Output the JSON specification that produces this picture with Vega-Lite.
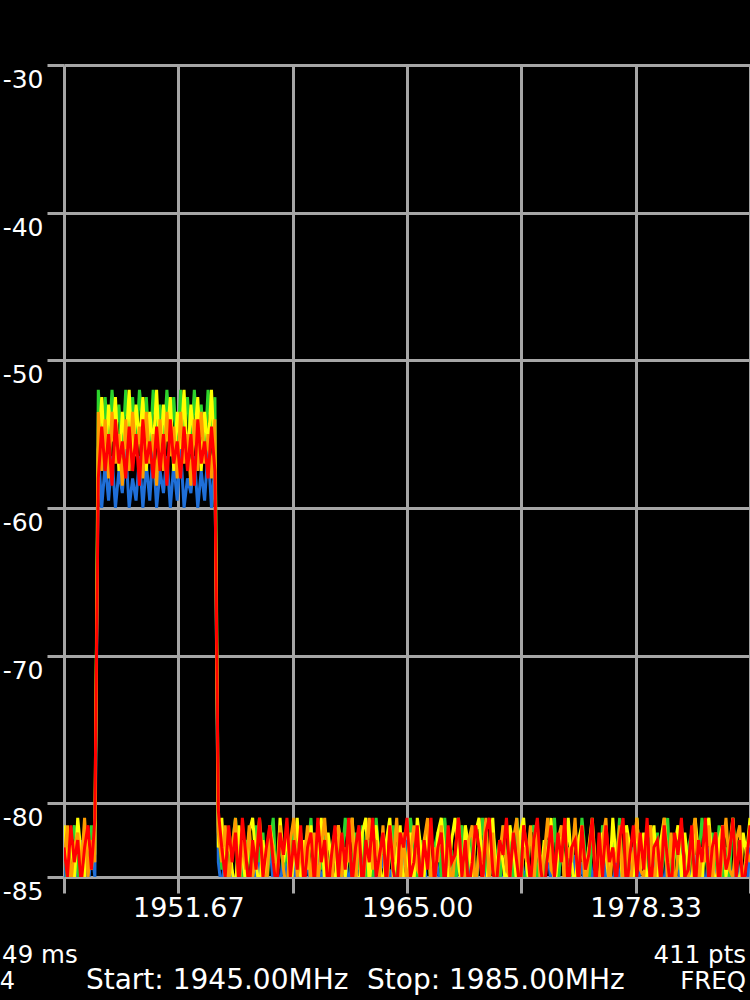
{
"$schema":"https://vega.github.io/schema/vega-lite/v6.json",
"width":686,"height":812,
"autosize":{"type":"none"},
"padding":{"left":64,"top":65,"right":0,"bottom":123},
"background":"#000000",
"config":{"view":{"stroke":null},"font":"DejaVu Sans"},
"layer":[
{"data":{"name":"trace"},
 "layer":[
 {"mark":{"type":"line","clip":true,"strokeWidth":3,"color":"#1f6fd8"},
  "encoding":{
   "x":{"field":"f","type":"quantitative","title":null,"scale":{"domain":[1945,1985],"nice":false,"zero":false},
    "axis":{"values":[1945,1951.6667,1958.3333,1965,1971.6667,1978.3333,1985],"title":null,"domain":false,
     "grid":true,"gridColor":"#a6a6a6","gridWidth":3,"gridOpacity":1,
     "ticks":true,"tickColor":"#a6a6a6","tickWidth":3,"tickSize":16,
     "labelColor":"#ffffff","labelFont":"DejaVu Sans","labelFontSize":27,"labelPadding":2,"labelOffset":10,
     "labelOverlap":false,"labelFlush":false,
     "labelExpr":"abs(datum.value-1965)<0.01 ? '1965.00' : abs(datum.value-1951.6667)<0.01 ? '1951.67' : abs(datum.value-1978.3333)<0.01 ? '1978.33' : ''"}},
   "y":{"field":"b","type":"quantitative","title":null,"scale":{"domain":[-85,-30],"nice":false,"zero":false},
    "axis":{"values":[-30,-40,-50,-60,-70,-80,-85],"title":null,"domain":false,
     "grid":true,"gridColor":"#a6a6a6","gridWidth":3,"gridOpacity":1,
     "ticks":true,"tickColor":"#a6a6a6","tickWidth":3,"tickSize":17,
     "labelColor":"#ffffff","labelFont":"DejaVu Sans","labelFontSize":25,"labelPadding":4,
     "labelExpr":"'-' + abs(datum.value)",
     "labelAlign":"right","labelBaseline":"top","labelOffset":2.5,"labelOverlap":false,"labelFlush":false}}
  }},
 {"mark":{"type":"line","clip":true,"strokeWidth":3,"color":"#2cd42c"},
  "encoding":{"x":{"field":"f","type":"quantitative","title":null},"y":{"field":"g","type":"quantitative","title":null}}},
 {"mark":{"type":"line","clip":true,"strokeWidth":3,"color":"#ffff00"},
  "encoding":{"x":{"field":"f","type":"quantitative","title":null},"y":{"field":"y","type":"quantitative","title":null}}},
 {"mark":{"type":"line","clip":true,"strokeWidth":3,"color":"#ff9c00"},
  "encoding":{"x":{"field":"f","type":"quantitative","title":null},"y":{"field":"o","type":"quantitative","title":null}}},
 {"mark":{"type":"line","clip":true,"strokeWidth":3,"color":"#ff0000"},
  "encoding":{"x":{"field":"f","type":"quantitative","title":null},"y":{"field":"r","type":"quantitative","title":null}}}
 ]},
{"data":{"values":[{}]},"mark":{"type":"text","align":"left","baseline":"alphabetic","color":"#ffffff","font":"DejaVu Sans","fontSize":24.5,"text":"49 ms"},
 "encoding":{"x":{"datum":1941.39,"type":"quantitative","title":null},"y":{"datum":-90.83,"type":"quantitative","title":null}}},
{"data":{"values":[{}]},"mark":{"type":"text","align":"right","baseline":"alphabetic","color":"#ffffff","font":"DejaVu Sans","fontSize":24.5,"text":"411 pts"},
 "encoding":{"x":{"datum":1984.77,"type":"quantitative","title":null},"y":{"datum":-90.83,"type":"quantitative","title":null}}},
{"data":{"values":[{}]},"mark":{"type":"text","align":"right","baseline":"alphabetic","color":"#ffffff","font":"DejaVu Sans","fontSize":24,"text":"4"},
 "encoding":{"x":{"datum":1942.14,"type":"quantitative","title":null},"y":{"datum":-92.6,"type":"quantitative","title":null}}},
{"data":{"values":[{}]},"mark":{"type":"text","align":"left","baseline":"alphabetic","color":"#ffffff","font":"DejaVu Sans","fontSize":28,"text":"Start: 1945.00MHz"},
 "encoding":{"x":{"datum":1946.28,"type":"quantitative","title":null},"y":{"datum":-92.6,"type":"quantitative","title":null}}},
{"data":{"values":[{}]},"mark":{"type":"text","align":"left","baseline":"alphabetic","color":"#ffffff","font":"DejaVu Sans","fontSize":28,"text":"Stop: 1985.00MHz"},
 "encoding":{"x":{"datum":1962.67,"type":"quantitative","title":null},"y":{"datum":-92.6,"type":"quantitative","title":null}}},
{"data":{"values":[{}]},"mark":{"type":"text","align":"right","baseline":"alphabetic","color":"#ffffff","font":"DejaVu Sans","fontSize":24.5,"text":"FREQ"},
 "encoding":{"x":{"datum":1984.77,"type":"quantitative","title":null},"y":{"datum":-92.6,"type":"quantitative","title":null}}}
],
"datasets":{"trace":[
{"f":1945,"b":-85,"g":-82.5,"y":-81.5,"o":-84,"r":-83},
{"f":1945.2,"b":-83.5,"g":-85.5,"y":-84,"o":-81.5,"r":-85},
{"f":1945.4,"b":-86,"g":-83,"y":-82,"o":-85.5,"r":-81.5},
{"f":1945.6,"b":-84,"g":-81.5,"y":-85.5,"o":-83,"r":-84},
{"f":1945.8,"b":-85.5,"g":-84.5,"y":-81,"o":-82,"r":-82.5},
{"f":1946,"b":-82.5,"g":-86,"y":-83.5,"o":-84.5,"r":-85.5},
{"f":1946.2,"b":-84.5,"g":-82,"y":-85,"o":-81,"r":-83},
{"f":1946.4,"b":-86,"g":-84,"y":-82,"o":-85,"r":-81.5},
{"f":1946.6,"b":-83,"g":-81.5,"y":-84.5,"o":-82.5,"r":-84.5},
{"f":1946.8,"b":-85,"g":-83.5,"y":-81.5,"o":-84,"r":-81},
{"f":1947,"b":-56,"g":-52,"y":-56,"o":-53.5,"r":-58},
{"f":1947.2,"b":-60,"g":-55.5,"y":-52.5,"o":-57.5,"r":-54.5},
{"f":1947.4,"b":-57,"g":-52.5,"y":-57,"o":-54,"r":-57.5},
{"f":1947.6,"b":-59.5,"g":-56,"y":-53,"o":-58,"r":-55},
{"f":1947.8,"b":-56.5,"g":-52,"y":-55.5,"o":-53.5,"r":-58.5},
{"f":1948,"b":-60,"g":-55,"y":-52.5,"o":-57,"r":-54},
{"f":1948.2,"b":-57.5,"g":-53,"y":-57.5,"o":-55,"r":-57},
{"f":1948.4,"b":-59,"g":-56.5,"y":-53.5,"o":-58.5,"r":-55.5},
{"f":1948.6,"b":-56,"g":-52,"y":-56,"o":-54,"r":-58},
{"f":1948.8,"b":-60,"g":-55.5,"y":-52,"o":-57.5,"r":-54.5},
{"f":1949,"b":-58,"g":-52.5,"y":-57,"o":-53.5,"r":-57.5},
{"f":1949.2,"b":-59.5,"g":-56,"y":-53,"o":-56.5,"r":-55},
{"f":1949.4,"b":-56.5,"g":-52,"y":-55.5,"o":-54.5,"r":-58.5},
{"f":1949.6,"b":-60,"g":-54.5,"y":-52.5,"o":-58,"r":-54},
{"f":1949.8,"b":-57,"g":-52.5,"y":-57.5,"o":-53.5,"r":-57},
{"f":1950,"b":-59.5,"g":-56.5,"y":-53.5,"o":-57,"r":-55.5},
{"f":1950.2,"b":-56,"g":-52,"y":-56,"o":-55,"r":-58},
{"f":1950.4,"b":-60,"g":-55,"y":-52,"o":-58.5,"r":-54.5},
{"f":1950.6,"b":-57.5,"g":-53,"y":-57,"o":-54,"r":-57.5},
{"f":1950.8,"b":-59,"g":-56,"y":-53,"o":-57.5,"r":-55},
{"f":1951,"b":-56.5,"g":-52,"y":-55.5,"o":-53.5,"r":-58.5},
{"f":1951.2,"b":-60,"g":-55.5,"y":-52.5,"o":-56.5,"r":-54},
{"f":1951.4,"b":-57,"g":-52.5,"y":-57.5,"o":-54.5,"r":-57},
{"f":1951.6,"b":-59.5,"g":-56.5,"y":-53.5,"o":-58,"r":-55.5},
{"f":1951.8,"b":-56,"g":-52,"y":-56,"o":-53.5,"r":-58},
{"f":1952,"b":-60,"g":-54.5,"y":-52,"o":-57,"r":-54.5},
{"f":1952.2,"b":-58,"g":-52.5,"y":-57,"o":-55,"r":-57.5},
{"f":1952.4,"b":-59,"g":-56,"y":-53,"o":-58.5,"r":-55},
{"f":1952.6,"b":-56.5,"g":-52,"y":-55.5,"o":-54,"r":-58.5},
{"f":1952.8,"b":-60,"g":-55.5,"y":-52.5,"o":-57.5,"r":-54},
{"f":1953,"b":-57.5,"g":-53,"y":-57.5,"o":-53.5,"r":-57},
{"f":1953.2,"b":-59.5,"g":-56.5,"y":-53.5,"o":-57,"r":-55.5},
{"f":1953.4,"b":-56,"g":-52,"y":-56,"o":-55,"r":-58},
{"f":1953.6,"b":-60,"g":-55,"y":-52,"o":-58,"r":-54.5},
{"f":1953.8,"b":-57,"g":-52.5,"y":-57,"o":-54,"r":-57.5},
{"f":1954,"b":-84,"g":-81.5,"y":-83,"o":-82,"r":-80.5},
{"f":1954.2,"b":-86,"g":-84.5,"y":-81,"o":-84,"r":-83},
{"f":1954.4,"b":-83,"g":-82,"y":-85,"o":-81.5,"r":-85},
{"f":1954.6,"b":-85.5,"g":-85.5,"y":-82,"o":-85.5,"r":-81.5},
{"f":1954.8,"b":-84.5,"g":-83,"y":-84.5,"o":-83,"r":-84},
{"f":1955,"b":-86,"g":-81,"y":-86,"o":-81,"r":-82},
{"f":1955.2,"b":-82.5,"g":-84,"y":-81.5,"o":-86,"r":-85.5},
{"f":1955.4,"b":-85,"g":-86,"y":-83.5,"o":-82.5,"r":-81},
{"f":1955.6,"b":-84,"g":-82.5,"y":-85.5,"o":-84.5,"r":-83.5},
{"f":1955.8,"b":-86,"g":-83.5,"y":-82,"o":-81.5,"r":-86},
{"f":1956,"b":-83.5,"g":-85,"y":-81,"o":-85,"r":-82.5},
{"f":1956.2,"b":-85.5,"g":-81.5,"y":-84,"o":-83.5,"r":-84.5},
{"f":1956.4,"b":-84,"g":-84,"y":-86,"o":-81,"r":-81},
{"f":1956.6,"b":-86,"g":-82,"y":-82.5,"o":-84,"r":-85},
{"f":1956.8,"b":-85,"g":-86,"y":-85,"o":-86,"r":-83},
{"f":1957,"b":-82.5,"g":-83,"y":-81.5,"o":-82,"r":-81.5},
{"f":1957.2,"b":-85.5,"g":-81,"y":-83,"o":-83,"r":-84},
{"f":1957.4,"b":-84,"g":-85.5,"y":-85.5,"o":-85.5,"r":-86},
{"f":1957.6,"b":-86,"g":-82.5,"y":-81,"o":-81.5,"r":-82},
{"f":1957.8,"b":-83,"g":-84.5,"y":-84,"o":-84.5,"r":-83.5},
{"f":1958,"b":-85,"g":-83,"y":-82,"o":-86,"r":-81},
{"f":1958.2,"b":-84.5,"g":-86,"y":-86,"o":-82.5,"r":-85},
{"f":1958.4,"b":-86,"g":-81.5,"y":-83.5,"o":-81,"r":-82.5},
{"f":1958.6,"b":-83.5,"g":-84,"y":-81,"o":-85,"r":-84.5},
{"f":1958.8,"b":-85.5,"g":-82,"y":-85,"o":-83.5,"r":-81.5},
{"f":1959,"b":-82.5,"g":-85,"y":-82.5,"o":-84,"r":-86},
{"f":1959.2,"b":-84,"g":-83.5,"y":-84.5,"o":-81.5,"r":-83},
{"f":1959.4,"b":-86,"g":-81,"y":-81.5,"o":-86,"r":-82},
{"f":1959.6,"b":-85,"g":-86,"y":-86,"o":-82,"r":-85.5},
{"f":1959.8,"b":-83,"g":-82.5,"y":-83,"o":-85.5,"r":-81},
{"f":1960,"b":-85.5,"g":-84.5,"y":-81,"o":-83,"r":-84},
{"f":1960.2,"b":-84,"g":-81.5,"y":-85.5,"o":-81,"r":-82.5},
{"f":1960.4,"b":-86,"g":-85.5,"y":-82,"o":-84.5,"r":-86},
{"f":1960.6,"b":-84.5,"g":-83,"y":-84,"o":-86,"r":-83.5},
{"f":1960.8,"b":-82.5,"g":-82,"y":-86,"o":-82.5,"r":-81.5},
{"f":1961,"b":-85,"g":-86,"y":-81.5,"o":-81.5,"r":-85},
{"f":1961.2,"b":-86,"g":-84,"y":-83.5,"o":-85,"r":-82},
{"f":1961.4,"b":-83.5,"g":-81,"y":-85,"o":-83,"r":-84.5},
{"f":1961.6,"b":-85.5,"g":-83.5,"y":-82.5,"o":-84,"r":-81},
{"f":1961.8,"b":-84,"g":-85,"y":-81,"o":-81,"r":-85.5},
{"f":1962,"b":-86,"g":-82,"y":-84.5,"o":-85.5,"r":-83},
{"f":1962.2,"b":-83,"g":-84.5,"y":-86,"o":-82,"r":-81.5},
{"f":1962.4,"b":-84.5,"g":-81.5,"y":-82,"o":-86,"r":-86},
{"f":1962.6,"b":-85.5,"g":-86,"y":-81,"o":-83.5,"r":-82.5},
{"f":1962.8,"b":-82.5,"g":-83,"y":-85.5,"o":-81,"r":-84},
{"f":1963,"b":-86,"g":-85,"y":-83,"o":-84.5,"r":-81},
{"f":1963.2,"b":-84,"g":-81,"y":-81.5,"o":-82.5,"r":-85},
{"f":1963.4,"b":-85,"g":-84,"y":-84,"o":-85,"r":-83.5},
{"f":1963.6,"b":-83.5,"g":-82.5,"y":-86,"o":-81.5,"r":-82},
{"f":1963.8,"b":-86,"g":-85.5,"y":-82.5,"o":-86,"r":-85.5},
{"f":1964,"b":-84.5,"g":-83.5,"y":-81,"o":-83,"r":-81.5},
{"f":1964.2,"b":-85.5,"g":-81.5,"y":-85,"o":-84,"r":-84.5},
{"f":1964.4,"b":-83,"g":-86,"y":-83.5,"o":-81,"r":-86},
{"f":1964.6,"b":-86,"g":-84,"y":-81.5,"o":-85.5,"r":-82},
{"f":1964.8,"b":-84,"g":-82,"y":-86,"o":-82,"r":-83},
{"f":1965,"b":-82.5,"g":-85,"y":-84,"o":-86,"r":-81},
{"f":1965.2,"b":-85,"g":-81,"y":-82,"o":-83.5,"r":-85},
{"f":1965.4,"b":-86,"g":-83,"y":-85.5,"o":-81.5,"r":-84},
{"f":1965.6,"b":-83.5,"g":-85.5,"y":-81,"o":-84.5,"r":-81.5},
{"f":1965.8,"b":-85.5,"g":-82.5,"y":-83,"o":-85,"r":-86},
{"f":1966,"b":-84,"g":-84.5,"y":-85,"o":-82.5,"r":-82.5},
{"f":1966.2,"b":-86,"g":-81.5,"y":-81.5,"o":-81,"r":-84.5},
{"f":1966.4,"b":-85,"g":-86,"y":-84.5,"o":-86,"r":-81},
{"f":1966.6,"b":-83,"g":-83,"y":-86,"o":-83,"r":-85.5},
{"f":1966.8,"b":-84.5,"g":-82,"y":-82,"o":-84,"r":-83},
{"f":1967,"b":-86,"g":-85,"y":-81,"o":-81.5,"r":-82},
{"f":1967.2,"b":-82.5,"g":-81,"y":-83.5,"o":-85.5,"r":-86},
{"f":1967.4,"b":-85.5,"g":-84,"y":-85.5,"o":-82,"r":-81.5},
{"f":1967.6,"b":-84,"g":-83.5,"y":-82.5,"o":-86,"r":-84},
{"f":1967.8,"b":-86,"g":-86,"y":-81,"o":-83.5,"r":-83.5},
{"f":1968,"b":-83.5,"g":-82.5,"y":-84,"o":-81,"r":-81},
{"f":1968.2,"b":-85,"g":-81.5,"y":-86,"o":-84.5,"r":-85},
{"f":1968.4,"b":-84.5,"g":-85.5,"y":-81.5,"o":-85,"r":-82.5},
{"f":1968.6,"b":-86,"g":-84,"y":-83,"o":-82.5,"r":-86},
{"f":1968.8,"b":-83,"g":-82,"y":-85,"o":-81.5,"r":-84},
{"f":1969,"b":-85.5,"g":-86,"y":-82,"o":-86,"r":-81.5},
{"f":1969.2,"b":-84,"g":-83,"y":-81,"o":-83,"r":-83},
{"f":1969.4,"b":-82.5,"g":-81,"y":-84.5,"o":-84,"r":-85.5},
{"f":1969.6,"b":-86,"g":-84.5,"y":-86,"o":-81,"r":-82},
{"f":1969.8,"b":-85,"g":-85,"y":-83.5,"o":-85.5,"r":-81},
{"f":1970,"b":-83.5,"g":-82,"y":-81,"o":-82,"r":-84.5},
{"f":1970.2,"b":-85.5,"g":-83.5,"y":-85,"o":-86,"r":-86},
{"f":1970.4,"b":-84,"g":-86,"y":-82.5,"o":-83.5,"r":-82.5},
{"f":1970.6,"b":-86,"g":-81.5,"y":-84,"o":-81.5,"r":-83.5},
{"f":1970.8,"b":-84.5,"g":-84,"y":-86,"o":-84.5,"r":-81},
{"f":1971,"b":-83,"g":-82.5,"y":-81.5,"o":-85,"r":-85},
{"f":1971.2,"b":-85,"g":-85.5,"y":-83,"o":-82.5,"r":-82},
{"f":1971.4,"b":-86,"g":-81,"y":-85.5,"o":-81,"r":-84},
{"f":1971.6,"b":-82.5,"g":-83,"y":-82,"o":-86,"r":-86},
{"f":1971.8,"b":-85.5,"g":-86,"y":-81,"o":-83,"r":-81.5},
{"f":1972,"b":-84,"g":-84.5,"y":-84.5,"o":-84,"r":-83},
{"f":1972.2,"b":-86,"g":-82,"y":-86,"o":-81.5,"r":-85.5},
{"f":1972.4,"b":-83.5,"g":-81.5,"y":-83,"o":-85.5,"r":-82.5},
{"f":1972.6,"b":-85,"g":-85,"y":-81.5,"o":-82,"r":-81},
{"f":1972.8,"b":-84.5,"g":-83.5,"y":-85,"o":-86,"r":-84.5},
{"f":1973,"b":-86,"g":-86,"y":-82.5,"o":-83.5,"r":-86},
{"f":1973.2,"b":-83,"g":-82.5,"y":-84,"o":-81,"r":-83.5},
{"f":1973.4,"b":-85.5,"g":-84,"y":-81,"o":-84.5,"r":-81.5},
{"f":1973.6,"b":-84,"g":-81,"y":-86,"o":-85,"r":-85},
{"f":1973.8,"b":-86,"g":-85.5,"y":-83.5,"o":-82.5,"r":-82},
{"f":1974,"b":-82.5,"g":-83,"y":-82,"o":-81.5,"r":-84},
{"f":1974.2,"b":-85,"g":-81.5,"y":-85.5,"o":-86,"r":-81},
{"f":1974.4,"b":-84.5,"g":-86,"y":-81,"o":-83,"r":-86},
{"f":1974.6,"b":-86,"g":-84,"y":-84,"o":-84,"r":-83},
{"f":1974.8,"b":-83.5,"g":-82,"y":-86,"o":-81,"r":-82.5},
{"f":1975,"b":-85.5,"g":-85,"y":-82.5,"o":-85.5,"r":-85.5},
{"f":1975.2,"b":-84,"g":-81,"y":-81.5,"o":-82,"r":-81.5},
{"f":1975.4,"b":-86,"g":-83.5,"y":-85,"o":-86,"r":-84.5},
{"f":1975.6,"b":-83,"g":-85.5,"y":-83,"o":-83.5,"r":-83.5},
{"f":1975.8,"b":-85,"g":-82.5,"y":-81,"o":-81.5,"r":-81},
{"f":1976,"b":-84.5,"g":-84.5,"y":-84.5,"o":-84.5,"r":-86},
{"f":1976.2,"b":-86,"g":-86,"y":-86,"o":-85,"r":-82},
{"f":1976.4,"b":-82.5,"g":-81.5,"y":-82,"o":-82.5,"r":-85},
{"f":1976.6,"b":-85.5,"g":-83,"y":-83.5,"o":-81,"r":-81.5},
{"f":1976.8,"b":-84,"g":-85,"y":-85.5,"o":-86,"r":-84},
{"f":1977,"b":-86,"g":-82,"y":-81,"o":-83,"r":-83},
{"f":1977.2,"b":-83.5,"g":-84,"y":-84,"o":-84,"r":-85.5},
{"f":1977.4,"b":-85,"g":-81,"y":-82.5,"o":-81.5,"r":-82.5},
{"f":1977.6,"b":-86,"g":-86,"y":-86,"o":-85.5,"r":-81},
{"f":1977.8,"b":-84,"g":-83.5,"y":-81.5,"o":-82,"r":-86},
{"f":1978,"b":-85.5,"g":-82.5,"y":-83,"o":-86,"r":-83.5},
{"f":1978.2,"b":-83,"g":-85.5,"y":-85,"o":-83.5,"r":-81.5},
{"f":1978.4,"b":-86,"g":-81,"y":-81,"o":-81,"r":-85},
{"f":1978.6,"b":-84.5,"g":-84.5,"y":-84.5,"o":-84.5,"r":-82},
{"f":1978.8,"b":-82.5,"g":-83,"y":-82,"o":-85,"r":-84.5},
{"f":1979,"b":-85,"g":-86,"y":-86,"o":-82.5,"r":-81},
{"f":1979.2,"b":-86,"g":-81.5,"y":-83.5,"o":-81.5,"r":-86},
{"f":1979.4,"b":-83.5,"g":-84,"y":-81.5,"o":-86,"r":-83},
{"f":1979.6,"b":-85.5,"g":-82,"y":-85.5,"o":-83,"r":-82.5},
{"f":1979.8,"b":-84,"g":-85,"y":-82.5,"o":-84,"r":-85.5},
{"f":1980,"b":-86,"g":-83.5,"y":-81,"o":-81,"r":-81.5},
{"f":1980.2,"b":-83,"g":-81,"y":-84,"o":-85.5,"r":-84},
{"f":1980.4,"b":-84.5,"g":-86,"y":-86,"o":-82,"r":-86},
{"f":1980.6,"b":-85.5,"g":-82.5,"y":-83,"o":-86,"r":-82},
{"f":1980.8,"b":-86,"g":-84.5,"y":-81.5,"o":-83.5,"r":-83.5},
{"f":1981,"b":-82.5,"g":-81.5,"y":-85,"o":-81.5,"r":-81},
{"f":1981.2,"b":-85,"g":-85.5,"y":-82,"o":-84.5,"r":-85},
{"f":1981.4,"b":-84,"g":-83,"y":-84.5,"o":-85,"r":-84.5},
{"f":1981.6,"b":-86,"g":-82,"y":-86,"o":-82.5,"r":-81.5},
{"f":1981.8,"b":-83.5,"g":-86,"y":-81,"o":-81,"r":-86},
{"f":1982,"b":-85.5,"g":-84,"y":-83.5,"o":-86,"r":-82.5},
{"f":1982.2,"b":-84,"g":-81,"y":-85.5,"o":-83,"r":-84},
{"f":1982.4,"b":-86,"g":-83.5,"y":-82,"o":-84,"r":-81},
{"f":1982.6,"b":-83,"g":-85,"y":-81,"o":-81.5,"r":-85.5},
{"f":1982.8,"b":-85,"g":-82,"y":-84,"o":-85.5,"r":-83},
{"f":1983,"b":-84.5,"g":-84.5,"y":-86,"o":-82,"r":-82},
{"f":1983.2,"b":-86,"g":-81.5,"y":-82.5,"o":-86,"r":-86},
{"f":1983.4,"b":-82.5,"g":-86,"y":-81.5,"o":-83.5,"r":-81.5},
{"f":1983.6,"b":-85.5,"g":-83,"y":-85,"o":-81,"r":-84.5},
{"f":1983.8,"b":-84,"g":-85,"y":-83,"o":-84.5,"r":-83.5},
{"f":1984,"b":-86,"g":-81,"y":-81,"o":-85,"r":-81},
{"f":1984.2,"b":-83.5,"g":-84,"y":-84.5,"o":-82.5,"r":-85},
{"f":1984.4,"b":-85,"g":-82.5,"y":-86,"o":-81.5,"r":-82.5},
{"f":1984.6,"b":-84.5,"g":-85.5,"y":-82,"o":-86,"r":-86},
{"f":1984.8,"b":-86,"g":-83.5,"y":-83.5,"o":-83,"r":-84},
{"f":1985,"b":-83,"g":-81.5,"y":-81,"o":-84,"r":-81.5}
]}
}
